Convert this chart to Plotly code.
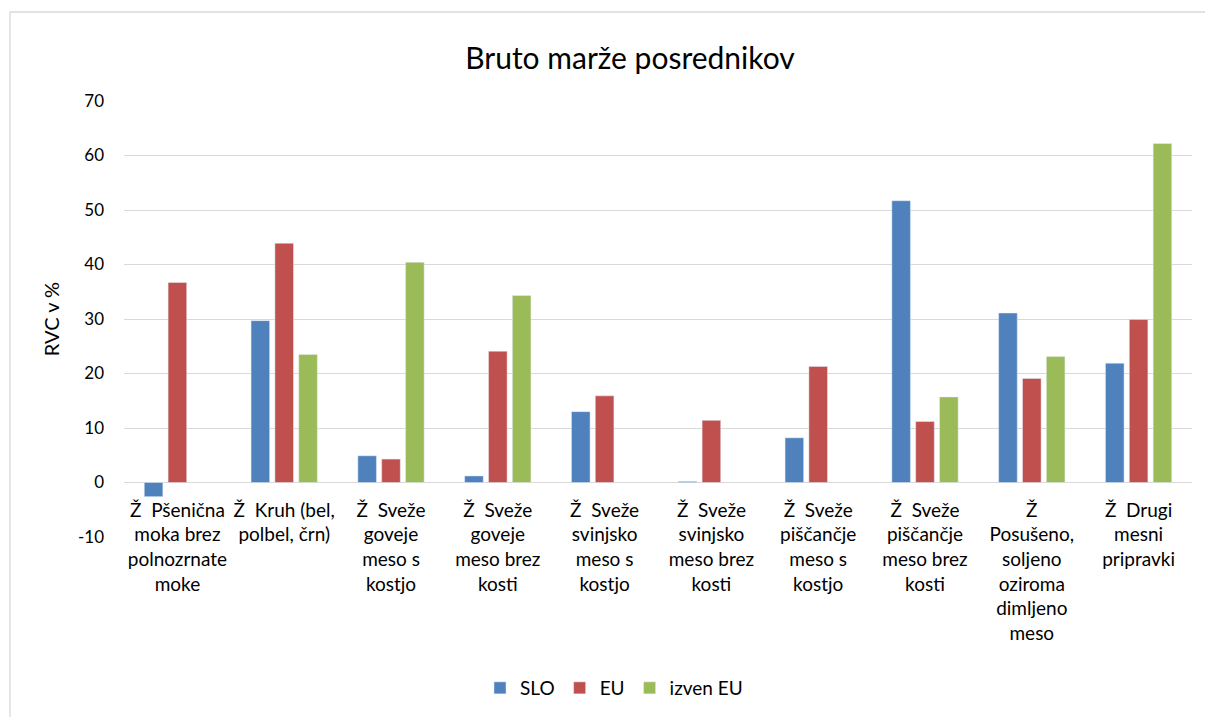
import plotly.graph_objects as go

categories = [
    "Ž  Pšenična<br>moka brez<br>polnozrnate<br>moke",
    "Ž  Kruh (bel,<br>polbel, črn)",
    "Ž  Sveže<br>goveje<br>meso s<br>kostjo",
    "Ž  Sveže<br>goveje<br>meso brez<br>kosti",
    "Ž  Sveže<br>svinjsko<br>meso s<br>kostjo",
    "Ž  Sveže<br>svinjsko<br>meso brez<br>kosti",
    "Ž  Sveže<br>piščančje<br>meso s<br>kostjo",
    "Ž  Sveže<br>piščančje<br>meso brez<br>kosti",
    "Ž<br>Posušeno,<br>soljeno<br>oziroma<br>dimljeno<br>meso",
    "Ž  Drugi<br>mesni<br>pripravki",
]
slo = [-2.6, 29.7, 4.9, 1.2, 13.0, 0.2, 8.2, 51.7, 31.1, 21.9]
eu = [36.7, 43.9, 4.3, 24.1, 15.9, 11.4, 21.3, 11.2, 19.1, 29.9]
izven_eu = [None, 23.5, 40.4, 34.3, None, None, None, 15.7, 23.1, 62.2]
y_ticks = [-10, 0, 10, 20, 30, 40, 50, 60, 70]
y_tick_text = ["-10", "0", "10", "20", "30", "40", "50", "60", "70"]

FONT = "Lato"
W, H = 1205, 717
L, T = 124, 101
pw, ph = 1068, 436
R, B = W - L - pw, H - T - ph

def px_x(x):
    return (x - L) / pw

def px_y(y):
    return (T + ph - y) / ph

fig = go.Figure()
fig.add_trace(go.Bar(name="SLO", x=categories, y=slo, marker_color="#4F81BD"))
fig.add_trace(go.Bar(name="EU", x=categories, y=eu, marker_color="#C0504D"))
fig.add_trace(go.Bar(name="izven EU", x=categories, y=izven_eu, marker_color="#9BBB59"))

ymin, ymax = -10, 70
fig.update_layout(
    width=W, height=H,
    margin=dict(l=L, r=R, t=T, b=B, autoexpand=False),
    paper_bgcolor="white", plot_bgcolor="white",
    barmode="group", bargap=0.33, bargroupgap=0.22,
    font=dict(family=FONT, color="#000000"),
    title=dict(text="Bruto marže posrednikov", font=dict(size=30, family=FONT),
               x=px_x(630), xref="paper", xanchor="center",
               y=1 - 58 / H, yref="container", yanchor="middle"),
    xaxis=dict(anchor="free", position=(0 - ymin) / (ymax - ymin),
               showline=False, showgrid=False, ticks="",
               tickfont=dict(size=19, family=FONT), tickangle=0,
               ticklabelstandoff=14),
    yaxis=dict(range=[ymin, ymax], tickvals=y_ticks, ticktext=y_tick_text,
               showgrid=True, gridcolor="#D9D9D9", gridwidth=1.3, zeroline=False,
               showline=False, ticks="", tickfont=dict(size=17, family=FONT),
               ticklabelstandoff=19,
               title=dict(text="RVC v %", font=dict(size=20, family=FONT), standoff=12)),
    legend=dict(orientation="h", x=px_x(614), xanchor="center",
                y=px_y(688), yanchor="middle", font=dict(size=19, family=FONT),
                itemwidth=30, tracegroupgap=0),
    shapes=[dict(type="rect", xref="paper", yref="paper",
                 x0=px_x(10), x1=px_x(1240),
                 y0=px_y(740), y1=px_y(12),
                 line=dict(color="#D9D9D9", width=1.3), fillcolor="rgba(0,0,0,0)", layer="below")],
)

fig.write_html(
    "out.html",
    config={"displayModeBar": False},
    post_script="document.body.style.margin='0';document.body.style.overflow='hidden';",
)
